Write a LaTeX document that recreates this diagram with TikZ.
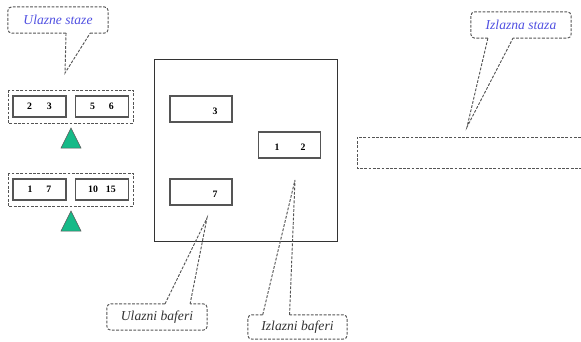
\documentclass[tikz,border=0pt]{standalone}
\usepackage{fontspec}
\setmainfont{Liberation Serif}
\usetikzlibrary{calc}
\definecolor{tealfill}{RGB}{22,186,136}
\definecolor{calloutblue}{RGB}{80,80,225}
\definecolor{lineg}{RGB}{85,85,85}
\tikzset{
  dashline/.style={draw=lineg, line width=0.95pt, dash pattern=on 2.8pt off 1.5pt},
  callbox/.style={inner sep=0pt, minimum width=100pt, minimum height=26pt, font=\itshape\fontsize{13.6}{15}\selectfont},
  slot/.style={draw=lineg, line width=1.1pt, inner sep=0pt, minimum width=53pt, minimum height=21pt, font=\bfseries\fontsize{9.8}{11}\selectfont},
  buffer/.style={draw=lineg, line width=1.1pt, inner sep=0pt, minimum width=62pt, minimum height=26pt},
  num/.style={font=\bfseries\fontsize{9.8}{11}\selectfont, inner sep=0pt},
  arrowhead/.style={fill=tealfill, draw=lineg, line width=0.5pt},
}
% draws the rounded outline of a callout box, leaving a gap between fractions #2 and #3 of side #4
\newcommand{\calloutframe}[5]{%
  \draw[dashline, rounded corners=4pt]
    ($(#1.#4 west)!#2!(#1.#4 east)$) -- (#1.#4 west) -- (#1.#5 west) -- (#1.#5 east) -- (#1.#4 east) -- ($(#1.#4 west)!#3!(#1.#4 east)$);
}
\begin{document}
\begin{tikzpicture}[x=1pt, y=-1pt]
\useasboundingbox (0,0) rectangle (581,341);

% input lanes
\draw[dashline] (8,90) rectangle (133,123);
\node[slot] (a1) at (39.5,106.5) {2\hspace{15pt}3};
\node[slot] (a2) at (102,106.5) {5\hspace{14pt}6};
\draw[dashline] (8,173) rectangle (133,206);
\node[slot] (b1) at (39.5,189.5) {1\hspace{14pt}7};
\node[slot] (b2) at (102,189.5) {10\hspace{8pt}15};
\draw[arrowhead] (61,148) -- (71,128) -- (81,148) -- cycle;
\draw[arrowhead] (61,231) -- (71,211) -- (81,231) -- cycle;

% switch with its buffers
\draw[draw=black!80, line width=1pt] (154,59) rectangle (337,241);
\node[buffer] (in1) at (201,109) {};
\node[num] at (215,111) {3};
\node[buffer] (in2) at (201,192) {};
\node[num] at (215,194) {7};
\node[buffer] (out1) at (289.5,145) {};
\node[num] at (277,147) {1};
\node[num] at (303,147) {2};

% output lane, open to the right
\draw[dashline] (581,137) -- (357,137) -- (357,168) -- (581,168);

% callouts
\node[callbox, text=calloutblue] (us) at (58,20) {Ulazne staze};
\coordinate (ustip) at (65,73);
\calloutframe{us}{0.58}{0.82}{south}{north}
\draw[dashline] ($(us.south west)!0.58!(us.south east)$) -- (ustip) -- ($(us.south west)!0.82!(us.south east)$);

\node[callbox, text=calloutblue] (is) at (521,25) {Izlazna staza};
\coordinate (istip) at (467,127);
\calloutframe{is}{0.17}{0.42}{south}{north}
\draw[dashline] ($(is.south west)!0.17!(is.south east)$) -- (istip) -- ($(is.south west)!0.42!(is.south east)$);

\node[callbox, text=black!80] (ub) at (157,317) {Ulazni baferi};
\coordinate (ubtip) at (207,218);
\calloutframe{ub}{0.58}{0.83}{north}{south}
\draw[dashline] ($(ub.north west)!0.58!(ub.north east)$) -- (ubtip) -- ($(ub.north west)!0.83!(ub.north east)$);

\node[callbox, text=black!80, minimum width=99pt, minimum height=24pt] (ib) at (297.5,327) {Izlazni baferi};
\coordinate (ibtip) at (295,180);
\calloutframe{ib}{0.15}{0.42}{north}{south}
\draw[dashline] ($(ib.north west)!0.15!(ib.north east)$) -- (ibtip) -- ($(ib.north west)!0.42!(ib.north east)$);
\end{tikzpicture}
\end{document}
